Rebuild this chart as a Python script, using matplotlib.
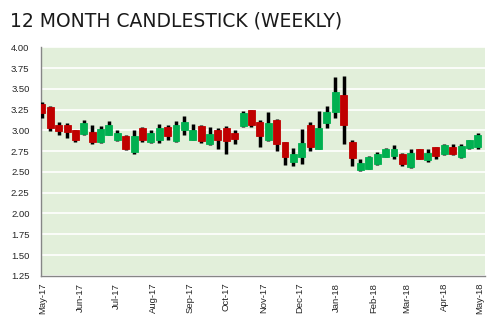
import matplotlib
matplotlib.use("Agg")
import matplotlib.pyplot as plt
import matplotlib.dates as mdates
import pandas as pd
import numpy as np

title = "12 MONTH CANDLESTICK (WEEKLY)"
dates = pd.date_range("2017-04-30", periods=53, freq="7D")
opens = [3.32, 3.28, 3.07, 3.07, 3.00, 2.96, 2.98, 2.86, 2.95, 2.89,
         2.93, 2.74, 3.03, 2.86, 2.88, 3.04, 2.87, 3.00, 2.89, 3.05,
         2.83, 3.00, 3.03, 2.97, 3.05, 3.24, 3.10, 2.89, 3.13, 2.86,
         2.62, 2.68, 3.07, 2.78, 3.09, 3.22, 3.42, 2.86, 2.52, 2.54,
         2.60, 2.68, 2.69, 2.72, 2.56, 2.77, 2.64, 2.80, 2.71, 2.80,
         2.68, 2.79, 2.80]
highs = [3.34, 3.29, 3.10, 3.09, 3.01, 3.13, 3.06, 3.05, 3.11, 3.00,
         2.94, 3.00, 3.04, 3.00, 3.08, 3.06, 3.11, 3.17, 3.08, 3.06,
         3.04, 3.03, 3.05, 3.00, 3.23, 3.25, 3.12, 3.22, 3.14, 2.86,
         2.79, 3.02, 3.10, 3.23, 3.29, 3.64, 3.66, 2.89, 2.65, 2.69,
         2.74, 2.79, 2.82, 2.73, 2.77, 2.77, 2.77, 2.80, 2.84, 2.83,
         2.83, 2.89, 2.97]
lows = [3.15, 2.99, 2.94, 2.91, 2.86, 2.95, 2.83, 2.85, 2.94, 2.87,
        2.76, 2.72, 2.86, 2.85, 2.85, 2.89, 2.86, 2.94, 2.89, 2.85,
        2.82, 2.77, 2.72, 2.84, 3.04, 3.04, 2.80, 2.87, 2.75, 2.58,
        2.57, 2.59, 2.75, 2.77, 3.03, 3.15, 2.83, 2.57, 2.51, 2.53,
        2.58, 2.68, 2.66, 2.57, 2.55, 2.65, 2.62, 2.65, 2.70, 2.70,
        2.67, 2.78, 2.78]
closes = [3.21, 3.03, 2.99, 2.98, 2.88, 3.09, 2.86, 3.02, 3.07, 2.97,
          2.77, 2.93, 2.88, 2.97, 3.03, 2.93, 3.07, 3.10, 3.00, 2.87,
          2.96, 2.88, 2.87, 2.90, 3.21, 3.07, 2.93, 3.09, 2.84, 2.68,
          2.71, 2.85, 2.80, 3.03, 3.22, 3.46, 3.07, 2.67, 2.61, 2.68,
          2.72, 2.78, 2.78, 2.60, 2.73, 2.66, 2.73, 2.69, 2.82, 2.71,
          2.81, 2.88, 2.94]
y_ticks = [1.25, 1.50, 1.75, 2.00, 2.25, 2.50, 2.75, 3.00, 3.25, 3.50, 3.75, 4.00]

UP = "#00B050"
DOWN = "#C00000"
BG = "#E2EFDA"

fig = plt.figure(figsize=(5.0, 3.26), dpi=100)
ax = fig.add_axes([0.0814, 0.154, 0.97 - 0.0814, 0.855 - 0.154])
ax.set_facecolor(BG)

x = mdates.date2num(dates.to_pydatetime())
o = np.array(opens); c = np.array(closes); h = np.array(highs); l = np.array(lows)
colors = [UP if cc >= oo else DOWN for oo, cc in zip(o, c)]

ax.vlines(x, l, h, color="black", linewidth=2.5, zorder=3)
bottoms = np.minimum(o, c)
heights = np.maximum(np.abs(c - o), 0.01)
ax.bar(x, heights, bottom=bottoms, width=5.8, color=colors, edgecolor=colors,
       linewidth=0.6, zorder=4)

ax.set_ylim(1.25, 4.00)
ax.set_yticks(y_ticks)
ax.set_yticklabels([f"{v:.2f}" for v in y_ticks])
ax.yaxis.grid(True, color="white", linewidth=1.2, zorder=0)
ax.set_axisbelow(True)

ax.set_xlim(mdates.date2num(pd.Timestamp("2017-04-29").to_pydatetime()),
            mdates.date2num(pd.Timestamp("2018-05-05").to_pydatetime()))
ax.xaxis.set_major_locator(mdates.MonthLocator())
ax.xaxis.set_major_formatter(mdates.DateFormatter("%b-%y"))
for lab in ax.get_xticklabels():
    lab.set_rotation(90)

for s in ["top", "right"]:
    ax.spines[s].set_visible(False)
for s in ["left", "bottom"]:
    ax.spines[s].set_color("#868686")
    ax.spines[s].set_linewidth(1.0)

ax.tick_params(axis="both", length=0, labelsize=6.8, labelcolor="#262626")
ax.tick_params(axis="y", pad=8)
ax.tick_params(axis="x", pad=5)
for lab in ax.get_xticklabels() + ax.get_yticklabels():
    lab.set_family("Liberation Sans")

fig.text(0.02, 1 - 26.7 / 326, title, fontsize=13.5, family="DejaVu Sans",
         color="#1a1a1a", va="baseline", ha="left")

fig.savefig("out.png", dpi=100)
